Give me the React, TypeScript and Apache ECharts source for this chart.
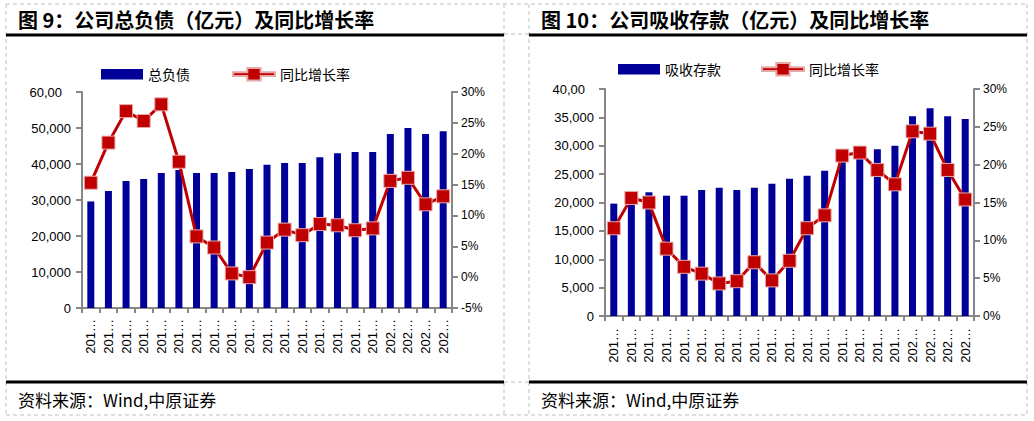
import { useEffect, useRef } from 'react';
import * as echarts from 'echarts';

const categories = [
  '2015-12', '2016-03', '2016-06', '2016-09', '2016-12', '2017-03', '2017-06',
  '2017-09', '2017-12', '2018-03', '2018-06', '2018-09', '2018-12', '2019-03',
  '2019-06', '2019-09', '2019-12', '2020-03', '2020-06', '2020-09', '2020-12',
];

const liabilities = [29600, 32500, 35300, 35800, 37500, 38300, 37500, 37500, 37800, 38600, 39800, 40300, 40300, 41900, 43000, 43300, 43300, 48300, 50000, 48300, 49100];
const liabilityGrowth = [15.3, 21.8, 26.9, 25.3, 28.0, 18.7, 6.6, 4.8, 0.6, 0.0, 5.6, 7.7, 6.8, 8.6, 8.4, 7.6, 7.9, 15.6, 16.1, 11.8, 13.1];

const deposits = [19800, 21600, 21800, 21200, 21200, 22200, 22600, 22200, 22600, 23300, 24200, 24700, 25600, 27800, 28600, 29400, 30000, 35200, 36600, 35200, 34700];
const depositGrowth = [11.6, 15.6, 15.0, 8.9, 6.5, 5.6, 4.3, 4.6, 7.1, 4.7, 7.3, 11.6, 13.3, 21.2, 21.6, 19.3, 17.4, 24.4, 24.1, 19.3, 15.4];

const titles = ['图 9：公司总负债（亿元）及同比增长率', '图 10：公司吸收存款（亿元）及同比增长率'];
const barNames = ['总负债', '吸收存款'];
const lineName = '同比增长率';
const sourceText = '资料来源：Wind,中原证券';

const BAR = '#000099';
const RED = '#C00000';
const AXIS = '#868686';
const CJK = "'Noto Sans CJK SC', sans-serif";
const NUM = "'Liberation Sans', Arial, sans-serif";
const BAR_ICON = 'path://M0,0 L40,0 L40,10 L0,10 Z';
const LINE_ICON = 'path://M0,4.5 L15,4.5 L15,0 L29,0 L29,4.5 L44,4.5 L44,8.5 L29,8.5 L29,13 L15,13 L15,8.5 L0,8.5 Z';

export default function App() {
  const ref = useRef<HTMLDivElement>(null);

  useEffect(() => {
    document.body.style.margin = '0';
    const chart = echarts.init(ref.current!, null, { renderer: 'svg' });

    const dash = { stroke: '#C0C0C0', lineWidth: 1, lineDash: [4, 3] };
    const hline = (x1: number, x2: number, y: number, style: any) => ({
      type: 'line', shape: { x1, y1: y, x2, y2: y }, style, silent: true,
    });
    const vline = (x: number, y1: number, y2: number, style: any) => ({
      type: 'line', shape: { x1: x, y1, x2: x, y2 }, style, silent: true,
    });
    const thick = { stroke: '#000', lineWidth: 3 };

    const thousands = (max: number) => (v: number) => {
      const s = v.toLocaleString('en-US');
      if (v === max) return '{c|' + s.slice(0, s.length - 1) + '}';
      return s;
    };

    const yLeft = (gridIndex: number, max: number, interval: number) => ({
      type: 'value', gridIndex, min: 0, max, interval,
      axisLine: { show: true, lineStyle: { color: AXIS, width: 2 } },
      axisTick: { show: true, length: 6, lineStyle: { color: AXIS, width: 2 } },
      splitLine: { show: false },
      axisLabel: {
        color: '#000', fontSize: 13, fontFamily: NUM, margin: 11,
        formatter: thousands(max),
        rich: { c: { color: '#000', fontSize: 13, fontFamily: NUM, padding: [0, 9, 0, 0] } },
      },
    });
    const yRight = (gridIndex: number, min: number, max: number) => ({
      type: 'value', gridIndex, min, max, interval: 5, position: 'right',
      axisLine: { show: true, lineStyle: { color: AXIS, width: 2 } },
      axisTick: { show: true, length: 6, lineStyle: { color: AXIS, width: 2 } },
      splitLine: { show: false },
      axisLabel: { color: '#000', fontSize: 12, fontFamily: NUM, margin: 9, formatter: (v: number) => v + '%' },
    });
    const xAxis = (gridIndex: number, margin: number) => ({
      type: 'category', gridIndex, data: categories, boundaryGap: true,
      axisLine: { show: true, lineStyle: { color: AXIS, width: 2 } },
      axisTick: { show: true, length: 5, alignWithLabel: false, lineStyle: { color: AXIS, width: 2 } },
      axisLabel: {
        color: '#000', fontSize: 13, fontFamily: NUM, rotate: 90, interval: 0, margin,
        formatter: (v: string) => v.slice(0, 3) + '…',
      },
    });

    const lineSeries = (xi: number, yi: number, data: number[]) => ({
      type: 'line', name: lineName, xAxisIndex: xi, yAxisIndex: yi, data,
      symbol: 'rect', symbolSize: 13,
      lineStyle: { color: RED, width: 3 },
      itemStyle: { color: RED, borderColor: '#E8A8A8', borderWidth: 1 },
      z: 3,
    });
    const barSeries = (name: string, xi: number, yi: number, data: number[]) => ({
      type: 'bar', name, xAxisIndex: xi, yAxisIndex: yi, data, barWidth: 7,
      itemStyle: { color: BAR }, z: 2,
    });

    const legendBase = {
      orient: 'horizontal', itemWidth: 42, itemHeight: 15, padding: 0,
      symbolKeepAspect: true,
      textStyle: { color: '#000', fontSize: 14, fontFamily: CJK },
    };

    chart.setOption({
      animation: false,
      backgroundColor: '#fff',
      title: [
        { text: titles[0], left: 18, top: 9, padding: 0, textStyle: { fontSize: 20, fontWeight: 'bold', fontFamily: CJK, color: '#000' } },
        { text: titles[1], left: 541, top: 9, padding: 0, textStyle: { fontSize: 20, fontWeight: 'bold', fontFamily: CJK, color: '#000' } },
      ],
      legend: [
        { ...legendBase, left: 101, top: 67, itemGap: 42, data: [{ name: barNames[0], icon: BAR_ICON }, { name: lineName, icon: LINE_ICON }] },
        { ...legendBase, left: 618, top: 62, itemGap: 40, data: [{ name: barNames[1], icon: BAR_ICON }, { name: lineName, icon: LINE_ICON }] },
      ],
      grid: [
        { left: 82, top: 92, width: 370, height: 216 },
        { left: 605, top: 89, width: 369, height: 227 },
      ],
      xAxis: [xAxis(0, 11), xAxis(1, 12)],
      yAxis: [
        yLeft(0, 60000, 10000),
        yRight(0, -5, 30),
        yLeft(1, 40000, 5000),
        yRight(1, 0, 30),
      ],
      series: [
        barSeries(barNames[0], 0, 0, liabilities),
        lineSeries(0, 1, liabilityGrowth),
        barSeries(barNames[1], 1, 2, deposits),
        lineSeries(1, 3, depositGrowth),
      ],
      graphic: [
        hline(6, 1027, 4, dash),
        hline(6, 1027, 415, dash),
        hline(504, 529, 34, dash),
        hline(504, 529, 382, dash),
        vline(6, 4, 415, dash),
        vline(504, 4, 415, dash),
        vline(529, 4, 415, dash),
        vline(1027, 4, 415, dash),
        hline(6, 504, 35, thick),
        hline(529, 1027, 35, thick),
        hline(6, 504, 382, thick),
        hline(529, 1027, 382, thick),
        { type: 'text', x: 18, y: 399, style: { text: sourceText, fontSize: 17, fontFamily: CJK, fill: '#000', textVerticalAlign: 'middle' } },
        { type: 'text', x: 541, y: 399, style: { text: sourceText, fontSize: 17, fontFamily: CJK, fill: '#000', textVerticalAlign: 'middle' } },
      ],
    });

    return () => chart.dispose();
  }, []);

  return <div ref={ref} style={{ width: 1034, height: 421 }} />;
}
